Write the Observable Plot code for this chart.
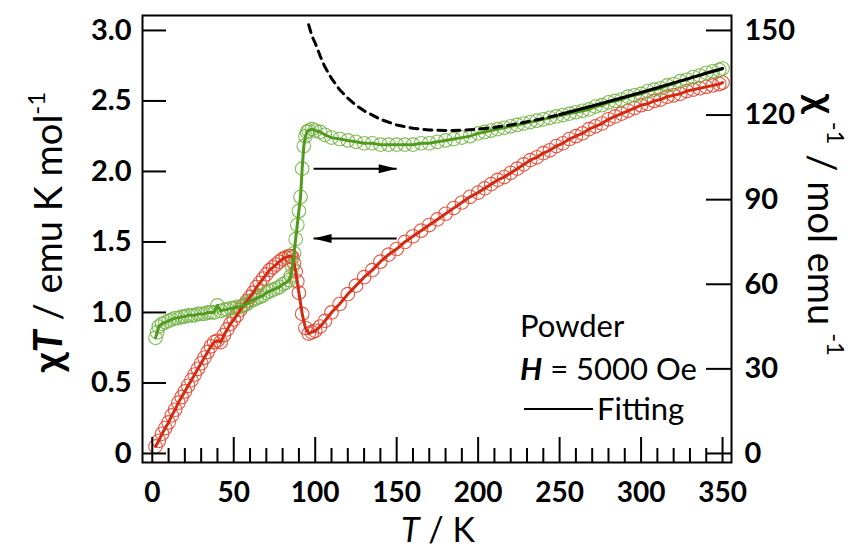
<!DOCTYPE html>
<html>
<head>
<meta charset="utf-8">
<script src="https://cdn.jsdelivr.net/npm/d3@7"></script>
<script src="https://cdn.jsdelivr.net/npm/@observablehq/plot@0.6"></script>
<style>
  html, body { margin: 0; padding: 0; background: white; }
  #chart { width: 864px; height: 550px; }
</style>
</head>
<body>
<div id="chart"></div>
<script>
// ---- Data ----
// χT (left axis, emu K mol^-1) — red series
const redT = [2,4,6,8,10,12,14,16,18,20,22,24,26,28,30,32,34,36,38,40,42,44,46,48,50,52,54,56,58,60,62,64,66,68,70,72,74,76,78,80,82,84,
  85,86,87,88,89,90,92,94,96,98,100,103,106,110,
  115,120,125,130,135,140,145,150,155,160,165,170,175,180,185,190,195,200,
  204,208,212,216,220,224,228,232,236,240,244,248,252,256,260,264,268,272,276,280,284,288,292,296,300,304,308,312,316,320,324,328,332,336,340,344,348,350];
const redChiT = [0.05,0.09,0.14,0.18,0.22,0.27,0.31,0.36,0.40,0.44,0.48,0.52,0.56,0.60,0.64,0.68,0.72,0.76,0.79,0.80,0.79,0.84,0.88,0.92,0.95,0.98,1.02,1.05,1.08,1.11,1.14,1.18,1.21,1.24,1.27,1.30,1.32,1.34,1.36,1.38,1.39,1.40,
  1.40,1.39,1.35,1.29,1.22,1.14,0.99,0.89,0.85,0.86,0.87,0.90,0.94,1.00,
  1.06,1.13,1.19,1.25,1.30,1.36,1.41,1.45,1.50,1.54,1.58,1.62,1.66,1.70,1.74,1.78,1.82,1.85,
  1.88,1.91,1.94,1.96,1.99,2.02,2.05,2.08,2.10,2.13,2.15,2.18,2.20,2.23,2.25,2.27,2.30,2.32,2.34,2.37,2.39,2.41,2.43,2.45,2.47,2.48,2.50,2.51,2.53,2.54,2.55,2.57,2.58,2.59,2.60,2.61,2.62,2.63];

// χ^-1 (right axis, mol emu^-1) — green series
const greenT = [2,3,4,6,8,10,12,14,16,18,20,22,24,26,28,30,32,34,36,38,40,42,44,46,48,50,52,54,56,58,60,62,64,66,68,70,72,74,76,78,80,82,84,
  85,86,87,88,89,90,91,92,93,94,95,96,98,100,103,106,110,
  115,120,125,130,135,140,145,150,155,160,165,170,175,180,185,190,195,200,
  204,208,212,216,220,224,228,232,236,240,244,248,252,256,260,264,268,272,276,280,284,288,292,296,300,304,308,312,316,320,324,328,332,336,340,344,348,350];
const greenInvChi = [41,43,45,46,46.5,47,47.5,48,48,48.5,48.5,49,49,49,49.5,49.5,49.5,50,50,50,52.5,50.5,51,51,51.5,51.5,52,52,52.5,53,54,54.5,55,55.5,56,57,57.5,58,58.5,59,60,60.5,61.5,
  63,66,71,76,81,86,91,101,109,112.5,114,114.5,115,114.5,114,113,112,
  111.5,111,110.5,110,110,109.5,109.5,109.5,109.5,109.5,110,110,110.5,111,111.5,112,112.5,113.5,
  114,114.5,115,115.5,116,116.5,117,117.5,118,118.5,119,119.5,120,120.5,121,121.5,122,123,123.5,124.5,125,125.5,126.5,127,127.5,128.5,129,129.5,130.5,131,132,132.5,133.5,134,135,135.5,136,136.5];

// Fitting curve of χ^-1 (dashed = extrapolated, solid = fitted range)
const fitDashT = [96,98,100,103,106,110,115,120,125,130,140,150,160,170,180,190,200,210,220,230,240,250];
const fitDashV = [152,148,145.5,141,137,133,129,126,123.5,121.5,118.5,116.5,115.3,114.7,114.5,114.6,115,115.6,116.5,117.6,118.8,120.2];
const fitSolidT = [250,260,270,280,290,300,310,320,330,340,350];
const fitSolidV = [120.2,121.7,123.2,124.8,126.4,128,129.7,131.4,133.1,134.8,136.5];

// Arrows (in left-axis units)
const arrowX1 = [99, 150];
const arrowX2 = [150, 99];
const arrowY  = [2.02, 1.525];

// Ticks
const xTicks = [0,50,100,150,200,250,300,350];
const xMinorTicks = [10,20,30,40,60,70,80,90,110,120,130,140,160,170,180,190,210,220,230,240,260,270,280,290,310,320,330,340];
const leftTicks = [0,0.5,1.0,1.5,2.0,2.5,3.0];
const rightTicks = [0,30,60,90,120,150];
const RIGHT_PER_LEFT = 50; // 3.0 (left) <-> 150 (right)

// ---- Tables ----
const red = redT.map((t, i) => ({T: t, v: redChiT[i]}));
const green = greenT.map((t, i) => ({T: t, v: greenInvChi[i] / RIGHT_PER_LEFT}));
const fitDash = fitDashT.map((t, i) => ({T: t, v: fitDashV[i] / RIGHT_PER_LEFT}));
const fitSolid = fitSolidT.map((t, i) => ({T: t, v: fitSolidV[i] / RIGHT_PER_LEFT}));
const arrows = arrowX1.map((x1, i) => ({x1, x2: arrowX2[i], y: arrowY[i]}));

const headRight = {draw(ctx) { ctx.moveTo(0, 0); ctx.lineTo(-18, -4.5); ctx.lineTo(-18, 4.5); ctx.closePath(); }};
const headLeft  = {draw(ctx) { ctx.moveTo(0, 0); ctx.lineTo(18, -4.5); ctx.lineTo(18, 4.5); ctx.closePath(); }};

const W = 864, H = 550, mL = 142, mR = 133, mT = 15, mB = 88;
const fw = W - mL - mR, fh = H - mT - mB;

const redDot = "#e4442c", redLine = "#d42a12";
const greenDot = "#74b446", greenLine = "#4f9c1c";
const FONT = "Lato, 'Open Sans', sans-serif";

const plot = Plot.plot({
  width: W, height: H,
  marginLeft: mL, marginRight: mR, marginTop: mT, marginBottom: mB,
  x: {domain: [-6, 355.5]},
  y: {domain: [-0.064, 3.106]},
  style: {fontFamily: FONT, background: "white", color: "black", overflow: "visible"},
  marks: [
    Plot.dot(red, {x: "T", y: "v", r: 6.8, fill: "none", stroke: redDot, strokeWidth: 1.1, strokeOpacity: 0.9}),
    Plot.dot(green, {x: "T", y: "v", r: 6.8, fill: "none", stroke: greenDot, strokeWidth: 1.1, strokeOpacity: 0.9}),
    Plot.line(red, {x: "T", y: "v", stroke: redLine, strokeWidth: 3}),
    Plot.line(green, {x: "T", y: "v", stroke: greenLine, strokeWidth: 3}),
    Plot.line(fitDash, {x: "T", y: "v", stroke: "black", strokeWidth: 3, strokeDasharray: "8,6"}),
    Plot.line(fitSolid, {x: "T", y: "v", stroke: "black", strokeWidth: 3}),
    Plot.link(arrows, {x1: "x1", x2: "x2", y1: "y", y2: "y", stroke: "black", strokeWidth: 2}),
    Plot.dot(arrows.filter(a => a.x2 > a.x1), {x: "x2", y: "y", symbol: headRight, fill: "black", stroke: "none"}),
    Plot.dot(arrows.filter(a => a.x2 < a.x1), {x: "x2", y: "y", symbol: headLeft, fill: "black", stroke: "none"}),
    Plot.tickX(xTicks, {x: d => d, insetTop: fh - 25, stroke: "black", strokeWidth: 2}),
    Plot.tickX(xMinorTicks, {x: d => d, insetTop: fh - 14, stroke: "black", strokeWidth: 2}),
    Plot.tickY(leftTicks, {y: d => d, insetRight: fw - 24, stroke: "black", strokeWidth: 2}),
    Plot.tickY(rightTicks.map(v => v / RIGHT_PER_LEFT), {y: d => d, insetLeft: fw - 25, stroke: "black", strokeWidth: 2}),
    Plot.axisX({ticks: xTicks, tickSize: 0, tickPadding: 20, fontSize: 28, fontWeight: "bold", label: null, tickFormat: d => String(d)}),
    Plot.axisY({ticks: leftTicks, tickSize: 0, tickPadding: 11, fontSize: 29, fontWeight: "bold", label: null,
      tickFormat: d => d === 0 ? "0" : d.toFixed(1)}),
    Plot.axisY({anchor: "right", ticks: rightTicks.map(v => v / RIGHT_PER_LEFT), tickSize: 0, tickPadding: 13, fontSize: 29, fontWeight: "bold", label: null,
      tickFormat: d => String(Math.round(d * RIGHT_PER_LEFT))}),
    Plot.frame({stroke: "black", strokeWidth: 2})
  ]
});

document.getElementById("chart").appendChild(plot);

// ---- Axis titles and legend text ----
const svg = d3.select(plot);

// Left: χT / emu K mol^-1
const lt = svg.append("text")
  .attr("transform", "translate(62,232) rotate(-90)")
  .attr("text-anchor", "middle").attr("font-family", FONT).attr("font-size", 38).attr("fill", "black");
lt.append("tspan").attr("font-weight", "bold").attr("font-size", 40).text("χ");
lt.append("tspan").attr("font-weight", "bold").attr("font-style", "italic").attr("font-size", 40).text("T");
lt.append("tspan").text(" / emu K mol");
lt.append("tspan").attr("font-size", 24).attr("dy", -17).text("-1");

// Right: χ^-1 / mol emu^-1
const rt = svg.append("text")
  .attr("transform", "translate(808,225) rotate(90)")
  .attr("text-anchor", "middle").attr("font-family", FONT).attr("font-size", 38).attr("fill", "black");
rt.append("tspan").attr("font-weight", "bold").attr("font-size", 40).text("χ");
rt.append("tspan").attr("font-size", 24).attr("dy", -19).attr("dx", 8).text("-1");
rt.append("tspan").attr("dy", 19).text(" / mol emu");
rt.append("tspan").attr("font-size", 24).attr("dy", -19).attr("dx", 8).text("-1");

// Bottom: T / K
const bt = svg.append("text")
  .attr("x", 438).attr("y", 542)
  .attr("text-anchor", "middle").attr("font-family", FONT).attr("font-size", 34).attr("fill", "black");
bt.append("tspan").attr("font-style", "italic").text("T");
bt.append("tspan").text(" / K");

// Legend
const leg = svg.append("g").attr("text-anchor", "start").attr("font-family", FONT).attr("font-size", 31).attr("fill", "black");
leg.append("text").attr("x", 520).attr("y", 337).text("Powder");
const h = leg.append("text").attr("x", 520).attr("y", 380);
h.append("tspan").attr("font-weight", "bold").attr("font-style", "italic").text("H");
h.append("tspan").text(" = 5000 Oe");
leg.append("line").attr("x1", 524).attr("x2", 593).attr("y1", 409).attr("y2", 409).attr("stroke", "black").attr("stroke-width", 2);
leg.append("text").attr("x", 597).attr("y", 420).text("Fitting");
</script>
</body>
</html>
